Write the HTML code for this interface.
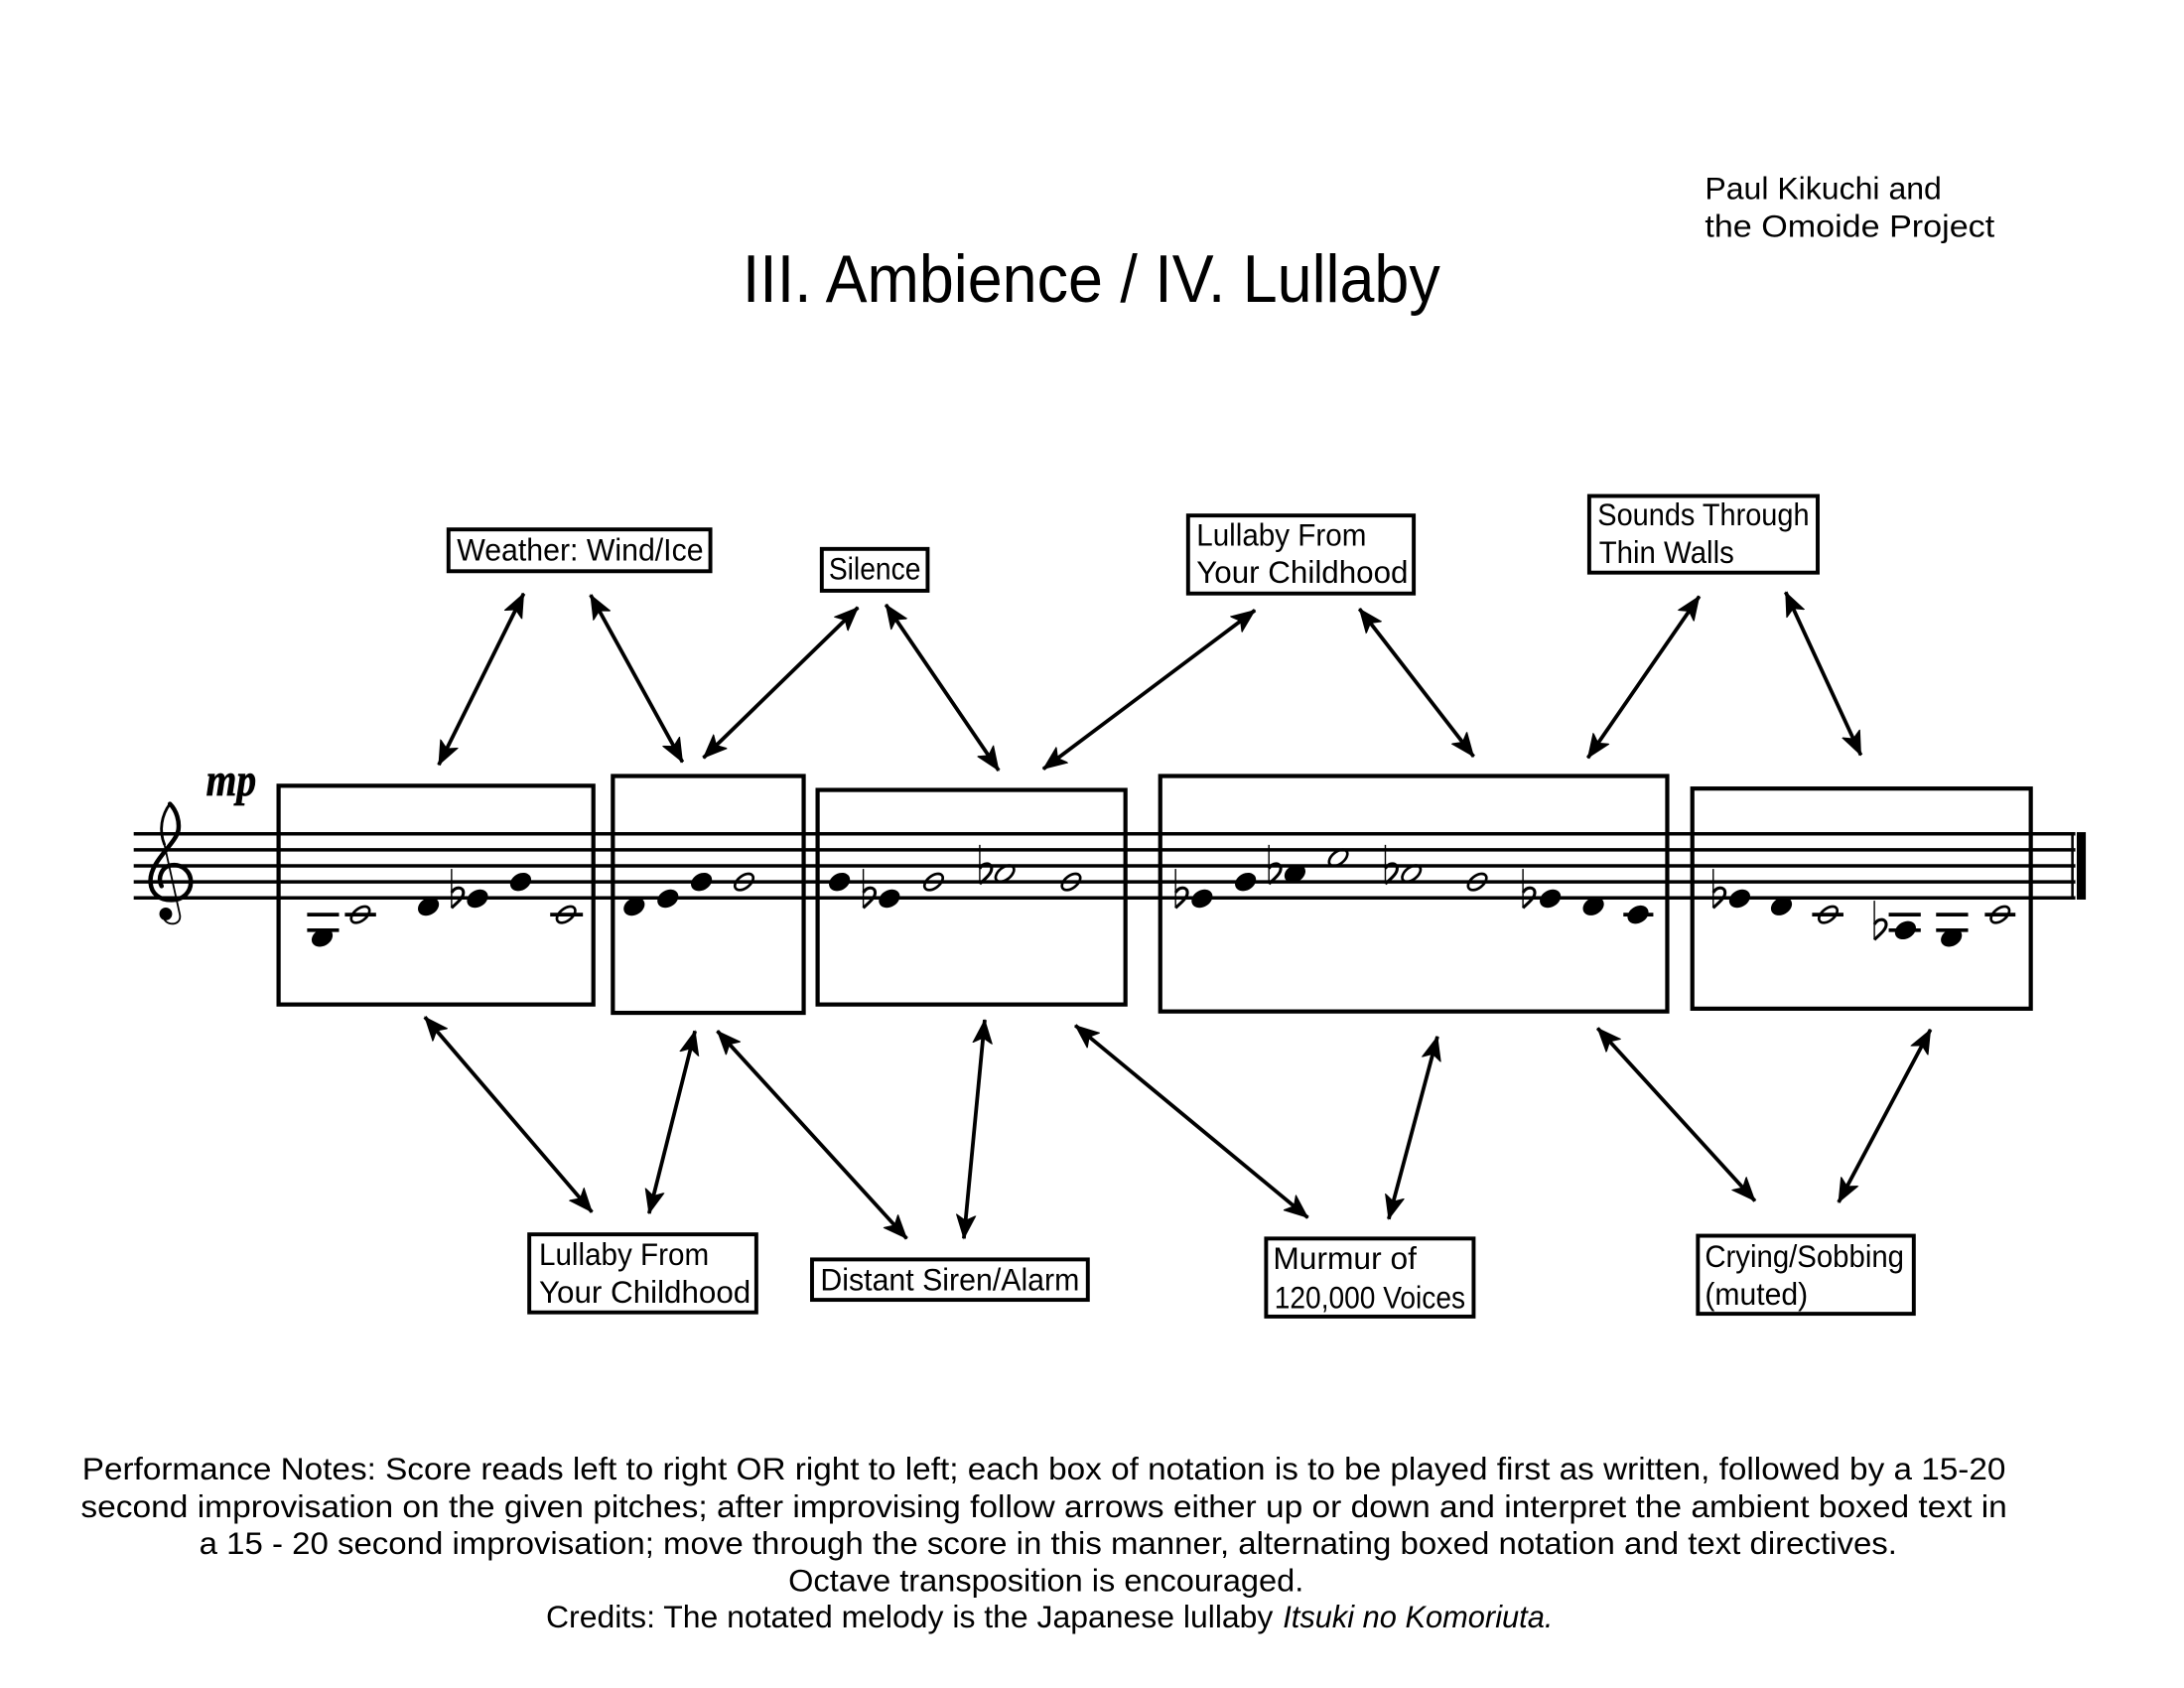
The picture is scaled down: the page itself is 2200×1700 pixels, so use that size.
<!DOCTYPE html>
<html lang="en">
<head>
<meta charset="utf-8">
<title>III. Ambience / IV. Lullaby</title>
<style>
html,body{margin:0;padding:0;background:#fff}
svg{display:block}
text{font-family:"Liberation Sans",sans-serif;fill:#000}
.l{font-size:22.5px}
</style>
</head>
<body>
<svg xmlns="http://www.w3.org/2000/svg" width="2200" height="1700" viewBox="0 0 1568 1211.6">
<defs>
<marker id="h" markerUnits="userSpaceOnUse" markerWidth="20" markerHeight="18" refX="17" refY="8" orient="auto-start-reverse">
<path d="M17,8 L0,1 L4,8 L0,15 Z" fill="#000" stroke="#000" stroke-width=".6"/>
</marker>
<ellipse id="n" rx="8" ry="6" transform="rotate(-30)" fill="#000"/>
<ellipse id="w" rx="7.6" ry="4.4" transform="rotate(-38)" fill="none" stroke="#000" stroke-width="1.9"/>
<g id="f" fill="none" stroke="#000">
<path d="M0,-28 V0" stroke-width="1"/>
<path d="M0,-11 C3,-16 8.5,-15 8.5,-11 C8.5,-7 3,-3 0,0" stroke-width="2.2"/>
</g>
</defs>
<rect width="1568" height="1212" fill="#fff"/>

<text x="533" y="216.5" font-size="48" textLength="501" lengthAdjust="spacingAndGlyphs">III. Ambience / IV. Lullaby</text>
<text x="1224" y="143" class="l" textLength="170" lengthAdjust="spacingAndGlyphs">Paul Kikuchi and</text>
<text x="1224" y="170" class="l" textLength="208" lengthAdjust="spacingAndGlyphs">the Omoide Project</text>

<!-- staff -->
<path stroke="#000" stroke-width="2.5" d="M96,598.5H1490M96,610H1490M96,621.5H1490M96,633H1490M96,644.5H1490"/>
<rect x="1491" y="597.3" width="6.5" height="48.4" fill="#000"/>
<rect x="1487" y="597.3" width="1.8" height="48.4" fill="#000"/>

<!-- clef -->
<g fill="none" stroke="#000" stroke-linecap="round">
<path d="M122,577 C116,585 114,596 118,606 L129,656 C131,664 121,665 118,660" stroke-width="1.3"/>
<path d="M122,577 C127,582 129,590 128,596 C126,606 108,618 108,632 C108,642 115,646 123,646 C132,646 137,640 137,633 C137,625 130,620 123,621 C116,622 113,630 116,636" stroke-width="3.2"/>
<path d="M122,577 C116,585 114,596 118,606" stroke-width="2"/>
</g>
<circle cx="119" cy="656" r="4.6" fill="#000"/>
<text x="148" y="571" font-size="33" font-weight="bold" font-style="italic" stroke="#000" stroke-width=".5" style="font-family:'Liberation Serif',serif" textLength="36" lengthAdjust="spacingAndGlyphs">mp</text>

<!-- notation boxes -->
<g fill="none" stroke="#000" stroke-width="3">
<rect x="200" y="564" width="226" height="157"/>
<rect x="440" y="557" width="137" height="170"/>
<rect x="587" y="567" width="221" height="154"/>
<rect x="833" y="557" width="364" height="169"/>
<rect x="1215" y="566" width="243" height="158"/>
</g>

<!-- ledger lines -->
<path stroke="#000" stroke-width="2.6" d="M220.5,656.5H243.4M220.5,667.7H243.4M247.6,656.5H270M395,656.5H418.5M1165.5,656.5H1187M1301,656.5H1323.5M1356,656.5H1379M1356,667.7H1379M1390,656.5H1413M1390,667.7H1413M1425,656.5H1447"/>

<!-- notes -->
<use href="#n" x="231.3" y="673"/><use href="#w" x="258.7" y="656.5"/>
<use href="#n" x="307.6" y="650.7"/><use href="#f" x="324.2" y="651.7"/><use href="#n" x="342.8" y="645"/>
<use href="#n" x="373.8" y="633"/><use href="#w" x="406.4" y="656.5"/>

<use href="#n" x="455.3" y="650.7"/><use href="#n" x="479.5" y="645"/><use href="#n" x="503.6" y="633"/><use href="#w" x="534.2" y="633"/>

<use href="#n" x="602.7" y="633"/><use href="#f" x="619.8" y="651.7"/><use href="#n" x="638.5" y="645"/>
<use href="#w" x="670.3" y="633"/><use href="#f" x="703.4" y="634.4"/><use href="#w" x="721.4" y="627"/><use href="#w" x="769" y="633"/>

<use href="#f" x="844" y="651.7"/><use href="#n" x="863" y="645"/><use href="#n" x="894.2" y="633"/>
<use href="#f" x="911" y="634.4"/><use href="#n" x="929.7" y="627"/><use href="#w" x="960.8" y="615.7"/>
<use href="#f" x="994.6" y="634.4"/><use href="#w" x="1013.3" y="627"/><use href="#w" x="1060.6" y="633"/>
<use href="#f" x="1093.4" y="651.7"/><use href="#n" x="1113" y="645"/><use href="#n" x="1144" y="650.5"/><use href="#n" x="1176" y="656.5"/>

<use href="#f" x="1230" y="651.7"/><use href="#n" x="1249" y="645"/><use href="#n" x="1279" y="650.5"/><use href="#w" x="1312.5" y="656.5"/>
<use href="#f" x="1345.7" y="674.5"/><use href="#n" x="1368" y="667.7"/><use href="#n" x="1401" y="673"/><use href="#w" x="1436" y="656.5"/>

<!-- arrows -->
<g stroke="#000" stroke-width="2.7" fill="none">
<line x1="315" y1="549" x2="376" y2="426" marker-start="url(#h)" marker-end="url(#h)"/>
<line x1="424" y1="427" x2="490" y2="547" marker-start="url(#h)" marker-end="url(#h)"/>
<line x1="505" y1="544" x2="616" y2="436" marker-start="url(#h)" marker-end="url(#h)"/>
<line x1="636" y1="434" x2="717" y2="553" marker-start="url(#h)" marker-end="url(#h)"/>
<line x1="749" y1="552" x2="901" y2="438" marker-start="url(#h)" marker-end="url(#h)"/>
<line x1="976" y1="437" x2="1058" y2="543" marker-start="url(#h)" marker-end="url(#h)"/>
<line x1="1140" y1="544" x2="1220" y2="428" marker-start="url(#h)" marker-end="url(#h)"/>
<line x1="1282" y1="425" x2="1336" y2="542" marker-start="url(#h)" marker-end="url(#h)"/>
<line x1="305" y1="730" x2="425" y2="870" marker-start="url(#h)" marker-end="url(#h)"/>
<line x1="466" y1="871" x2="499" y2="740" marker-start="url(#h)" marker-end="url(#h)"/>
<line x1="515" y1="740" x2="651" y2="889" marker-start="url(#h)" marker-end="url(#h)"/>
<line x1="692" y1="889" x2="707" y2="732" marker-start="url(#h)" marker-end="url(#h)"/>
<line x1="772" y1="736" x2="939" y2="874" marker-start="url(#h)" marker-end="url(#h)"/>
<line x1="997" y1="875" x2="1032" y2="744" marker-start="url(#h)" marker-end="url(#h)"/>
<line x1="1147" y1="738" x2="1260" y2="862" marker-start="url(#h)" marker-end="url(#h)"/>
<line x1="1320" y1="863" x2="1386" y2="739" marker-start="url(#h)" marker-end="url(#h)"/>
</g>

<!-- label boxes -->
<g fill="#fff" stroke="#000" stroke-width="2.8">
<rect x="322" y="380" width="188" height="30"/>
<rect x="590" y="394" width="76" height="30"/>
<rect x="853" y="370" width="162" height="56"/>
<rect x="1141" y="356" width="164" height="55"/>
<rect x="380" y="886" width="163" height="56"/>
<rect x="583" y="904" width="198" height="29"/>
<rect x="909" y="889" width="149" height="56"/>
<rect x="1219" y="887" width="155" height="56"/>
</g>
<text class="l" x="328" y="402.5" textLength="177" lengthAdjust="spacingAndGlyphs">Weather: Wind/Ice</text>
<text class="l" x="595" y="416" textLength="66" lengthAdjust="spacingAndGlyphs">Silence</text>
<text class="l" x="859" y="391.5" textLength="122" lengthAdjust="spacingAndGlyphs">Lullaby From</text>
<text class="l" x="859" y="418.5" textLength="152" lengthAdjust="spacingAndGlyphs">Your Childhood</text>
<text class="l" x="1147" y="377" textLength="152" lengthAdjust="spacingAndGlyphs">Sounds Through</text>
<text class="l" x="1148" y="404" textLength="97" lengthAdjust="spacingAndGlyphs">Thin Walls</text>
<text class="l" x="387" y="908" textLength="122" lengthAdjust="spacingAndGlyphs">Lullaby From</text>
<text class="l" x="387" y="935" textLength="152" lengthAdjust="spacingAndGlyphs">Your Childhood</text>
<text class="l" x="589" y="926" textLength="186" lengthAdjust="spacingAndGlyphs">Distant Siren/Alarm</text>
<text class="l" x="914" y="911" textLength="103" lengthAdjust="spacingAndGlyphs">Murmur of</text>
<text class="l" x="915" y="939" textLength="137" lengthAdjust="spacingAndGlyphs">120,000 Voices</text>
<text class="l" x="1224" y="909.5" textLength="143" lengthAdjust="spacingAndGlyphs">Crying/Sobbing</text>
<text class="l" x="1224" y="936.5" textLength="74" lengthAdjust="spacingAndGlyphs">(muted)</text>

<!-- notes text -->
<text class="l" x="59" y="1062" textLength="1381" lengthAdjust="spacingAndGlyphs">Performance Notes: Score reads left to right OR right to left; each box of notation is to be played first as written, followed by a 15-20</text>
<text class="l" x="58" y="1089" textLength="1383" lengthAdjust="spacingAndGlyphs">second improvisation on the given pitches; after improvising follow arrows either up or down and interpret the ambient boxed text in</text>
<text class="l" x="143" y="1115.5" textLength="1219" lengthAdjust="spacingAndGlyphs">a 15 - 20 second improvisation; move through the score in this manner, alternating boxed notation and text directives.</text>
<text class="l" x="566" y="1142" textLength="370" lengthAdjust="spacingAndGlyphs">Octave transposition is encouraged.</text>
<text class="l" x="392" y="1168" textLength="522" lengthAdjust="spacingAndGlyphs">Credits: The notated melody is the Japanese lullaby</text>
<text class="l" x="921" y="1168" font-style="italic" textLength="194" lengthAdjust="spacingAndGlyphs">Itsuki no Komoriuta.</text>
</svg>
</body>
</html>
